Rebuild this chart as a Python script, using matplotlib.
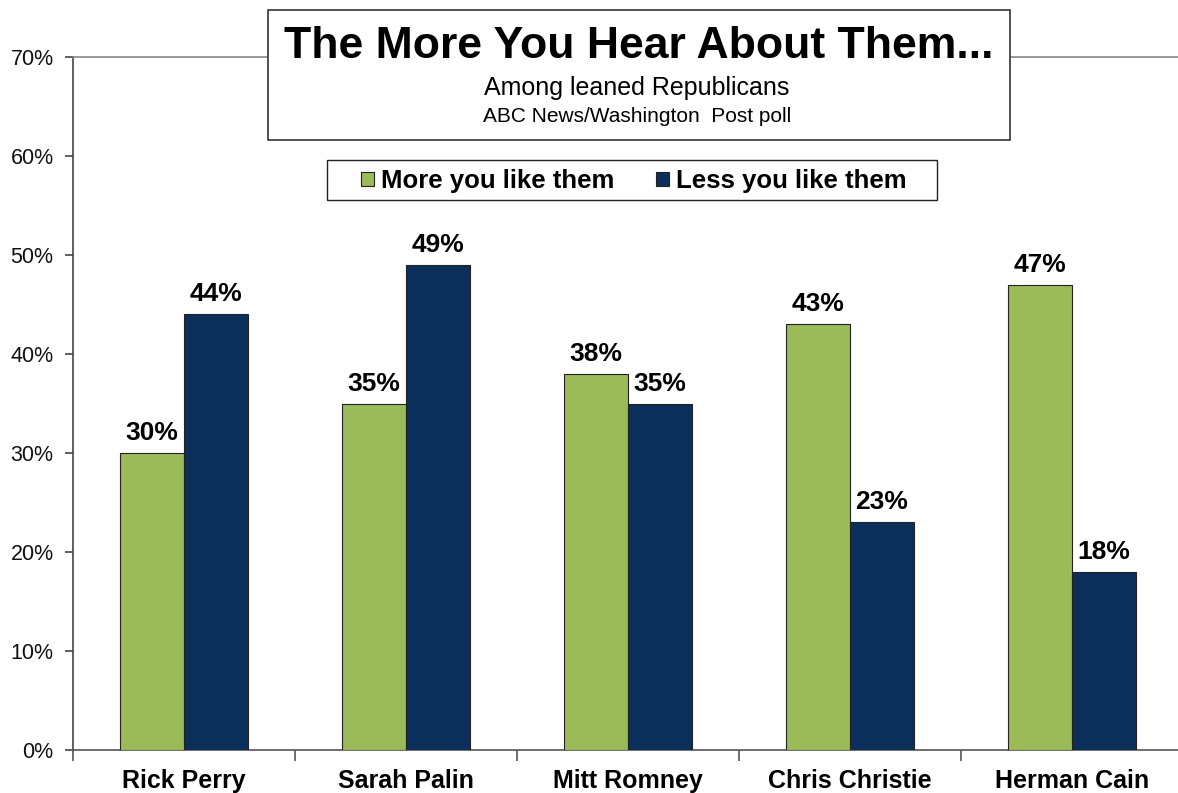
import matplotlib
matplotlib.use("Agg")
import matplotlib.pyplot as plt
from matplotlib.patches import Rectangle, Patch

plt.rcParams['font.family'] = ['Liberation Sans', 'DejaVu Sans']

categories = ["Rick Perry", "Sarah Palin", "Mitt Romney", "Chris Christie", "Herman Cain"]
more_like = [30, 35, 38, 43, 47]
less_like = [44, 49, 35, 23, 18]
series_names = ["More you like them", "Less you like them"]
yticks = [0, 10, 20, 30, 40, 50, 60, 70]
ytick_labels = [f"{v}%" for v in yticks]

title = "The More You Hear About Them..."
subtitle = "Among leaned Republicans"
source = "ABC News/Washington  Post poll"

GREEN = "#9BBB59"
NAVY = "#0B2F5B"

W, H = 1178, 793
fig = plt.figure(figsize=(W / 100, H / 100), dpi=100)
ax = fig.add_axes([73 / W, 43 / H, 1110 / W, 693 / H])

bw = 0.288
x = list(range(len(categories)))
ax.bar([i - bw / 2 for i in x], more_like, width=bw, color=GREEN, edgecolor="#222222", linewidth=0.8, zorder=3)
ax.bar([i + bw / 2 for i in x], less_like, width=bw, color=NAVY, edgecolor="#222222", linewidth=0.8, zorder=3)

for i in x:
    ax.text(i - bw / 2, more_like[i] + 0.8, f"{more_like[i]}%", ha="center", va="bottom",
            fontsize=19, fontweight="bold", color="black")
    ax.text(i + bw / 2, less_like[i] + 0.8, f"{less_like[i]}%", ha="center", va="bottom",
            fontsize=19, fontweight="bold", color="black")

ax.set_xlim(-0.5, len(categories) - 0.5)
ax.set_ylim(0, 70)
ax.set_yticks(yticks)
ax.set_yticklabels(ytick_labels, fontsize=15.5, color="#111111")
ax.set_xticks(x)
ax.set_xticklabels(categories, fontsize=18, fontweight="bold")
ax.tick_params(axis="x", length=0, pad=14)
ax.tick_params(axis="y", length=6, width=1.2, color="#444444", pad=8)

# category boundary ticks
ax.set_xticks([i - 0.5 for i in range(len(categories) + 1)], minor=True)
ax.tick_params(axis="x", which="minor", length=8, width=1.2, color="#555555", direction="out")

ax.spines["right"].set_visible(False)
ax.spines["top"].set_color("#888888")
ax.spines["top"].set_linewidth(1.2)
ax.spines["left"].set_color("#444444")
ax.spines["left"].set_linewidth(1.2)
ax.spines["bottom"].set_color("#555555")
ax.spines["bottom"].set_linewidth(1.2)

# Title box
fig.patches.append(Rectangle((268 / W, 1 - 140 / H), (1010 - 268) / W, 130 / H,
                             transform=fig.transFigure, facecolor="white", edgecolor="#333333",
                             linewidth=1.2, zorder=5))
fig.text(639 / W, 1 - 46 / H, title, ha="center", va="center", fontsize=32, fontweight="bold", zorder=6)
fig.text(637 / W, 1 - 88 / H, subtitle, ha="center", va="center", fontsize=18, zorder=6)
fig.text(637 / W, 1 - 116 / H, source, ha="center", va="center", fontsize=15, zorder=6)

# Legend box
fig.patches.append(Rectangle((327 / W, 1 - 200 / H), (937 - 327) / W, 40 / H,
                             transform=fig.transFigure, facecolor="white", edgecolor="#222222",
                             linewidth=1.0, zorder=5))
handles = [Patch(facecolor=GREEN, edgecolor="#222222", linewidth=0.8),
           Patch(facecolor=NAVY, edgecolor="#222222", linewidth=0.8)]
leg = fig.legend(handles, series_names, loc="center", bbox_to_anchor=(634 / W, 1 - 181 / H),
                 ncol=2, frameon=False, prop={"size": 18.5, "weight": "bold"},
                 handlelength=0.5, handleheight=0.5, handletextpad=0.3, columnspacing=1.6,
                 borderpad=0.2)
leg.set_zorder(6)

fig.savefig("out.png", dpi=100)
